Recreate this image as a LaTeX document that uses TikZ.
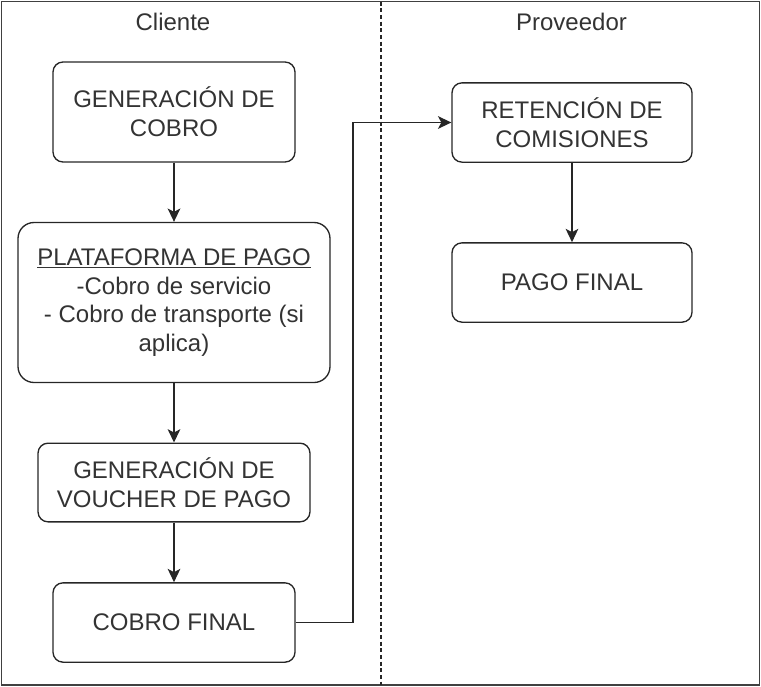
\documentclass[tikz,border=0pt]{standalone}
\usepackage{fontspec}
\setmainfont{Liberation Sans}
\usepackage{xcolor}
\usetikzlibrary{arrows.meta}
\definecolor{txtgray}{HTML}{333333}
\tikzset{paso/.style={draw=black!85, line width=1pt, rounded corners=7.5pt,
   inner sep=0pt, align=center, text=txtgray,
   font=\fontsize{18}{21.5}\selectfont},
 flecha/.style={draw=black!85, line width=1pt,
   -{Stealth[length=10pt,width=9.5pt,inset=2.5pt]}},
 carril/.style={text=txtgray, inner sep=0pt, font=\fontsize{18}{21.5}\selectfont},
}

\begin{document}
\begin{tikzpicture}[x=0.75pt, y=-0.75pt]
        \useasboundingbox (0, 0) rectangle (761, 686);
        % marco y carriles
        \draw[black!75, line width=1pt] (1.5, 1.5) rectangle (759.5, 685);
        \draw[black!85, line width=0.9pt, dash pattern=on 3pt off 2pt] (381, 1.5) -- (381, 685);
        \node[carril] (cliente) at (173, 22) {Cliente};
        \node[carril] (proveedor) at (571.5, 22) {Proveedor};

        % lado cliente
        \node[paso, minimum width=181.5pt, minimum height=75pt] (gencobro) at (174, 112)
            {GENERACIÓN DE\\COBRO};
        \node[paso, minimum width=234pt, minimum height=120pt, rounded corners=12pt] (plataforma) at (174, 302.5)
            {\underline{PLATAFORMA DE PAGO}\\-Cobro de servicio\\- Cobro de transporte (si\\aplica)};
        \node[paso, minimum width=204pt, minimum height=59pt] (voucher) at (174, 482.5)
            {GENERACIÓN DE\\VOUCHER DE PAGO};
        \node[paso, minimum width=181.5pt, minimum height=59.5pt] (cobrofinal) at (174, 622.5)
            {COBRO FINAL};

        % lado proveedor
        \node[paso, minimum width=180pt, minimum height=59.5pt] (retencion) at (572, 122.5)
            {RETENCIÓN DE\\COMISIONES};
        \node[paso, minimum width=180pt, minimum height=59.5pt] (pagofinal) at (572, 282.5)
            {PAGO FINAL};

        \draw[flecha] (gencobro) -- (plataforma);
        \draw[flecha] (plataforma) -- (voucher);
        \draw[flecha] (voucher) -- (cobrofinal);
        \coordinate (codo) at (353, 622.5);
        \draw[flecha] (cobrofinal.east) -- (codo) |- (retencion.west);
        \draw[flecha] (retencion) -- (pagofinal);
    \end{tikzpicture}
\end{document}
